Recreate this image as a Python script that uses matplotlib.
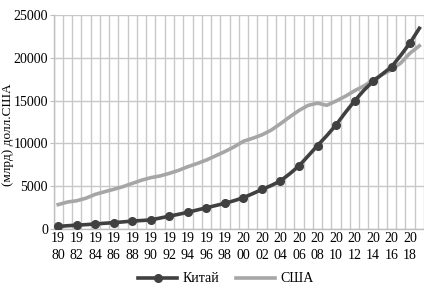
import numpy as np
import matplotlib
matplotlib.use('Agg')
import matplotlib.pyplot as plt

plt.rcParams['font.family'] = ['Liberation Serif', 'DejaVu Serif']

# GDP (PPP), bn USD
years = list(range(1980, 2020))
china = [300, 380, 450, 510, 590, 670, 740, 830, 930, 990,
         1060, 1280, 1500, 1720, 1950, 2220, 2480, 2740, 3000, 3310,
         3660, 4130, 4620, 5080, 5620, 6450, 7370, 8550, 9750, 10900,
         12150, 13600, 14950, 16200, 17250, 18100, 18950, 20300, 21750, 23450]
usa = [2850, 3150, 3300, 3600, 4050, 4350, 4640, 4950, 5330, 5700,
       6000, 6200, 6500, 6850, 7280, 7650, 8060, 8550, 9050, 9600,
       10250, 10600, 11000, 11550, 12300, 13100, 13850, 14450, 14700, 14450,
       14950, 15500, 16150, 16700, 17400, 18050, 18600, 19400, 20550, 21400]
tick_years = years[::2]
y_ticks = [0, 5000, 10000, 15000, 20000, 25000]

fig = plt.figure(figsize=(4.24, 2.9), dpi=100)
ax = fig.add_axes([53.6 / 424, 1 - 229 / 290, 1 - 53.6 / 424, 214 / 290])

x = np.arange(len(years))
ax.plot(x, china, color='#404040', linewidth=2.6, marker='o', markersize=5.5,
        markevery=2, label='Китай', zorder=3)
ax.plot(x, usa, color='#a6a6a6', linewidth=2.6, label='США', zorder=2)

ax.set_xlim(-0.5, 39.2)
ax.set_ylim(0, 25000)
ax.set_yticks(y_ticks)
ax.set_yticklabels([str(v) for v in y_ticks], fontsize=10)

# category boundaries as grid lines
ax.set_xticks(np.arange(-0.5, 40, 1), minor=True)
ax.set_xticks(x[::2])
ax.set_xticklabels([f'{str(y)[:2]}\n{str(y)[2:]}' for y in tick_years],
                   fontsize=10, linespacing=1.45)
ax.grid(True, which='minor', axis='x', color='#c8c8c8', linewidth=1)
ax.grid(True, which='major', axis='y', color='#c8c8c8', linewidth=1)
ax.set_axisbelow(True)
ax.tick_params(axis='x', which='both', length=0, pad=2)
ax.tick_params(axis='y', length=3, color='#bfbfbf', pad=1)

for s in ['top', 'right']:
    ax.spines[s].set_visible(False)
for s in ['left', 'bottom']:
    ax.spines[s].set_color('#bfbfbf')
    ax.spines[s].set_linewidth(1)

ax.set_ylabel('(млрд) долл.США', fontsize=9.5)
ax.yaxis.set_label_coords(-0.108, 0.44)

fig.legend(loc='center', bbox_to_anchor=(226 / 424, 1 - 279 / 290), ncol=2,
           frameon=False, fontsize=10, handlelength=2.8, columnspacing=1.2,
           handletextpad=0.4)

fig.savefig('out.png', dpi=100)
